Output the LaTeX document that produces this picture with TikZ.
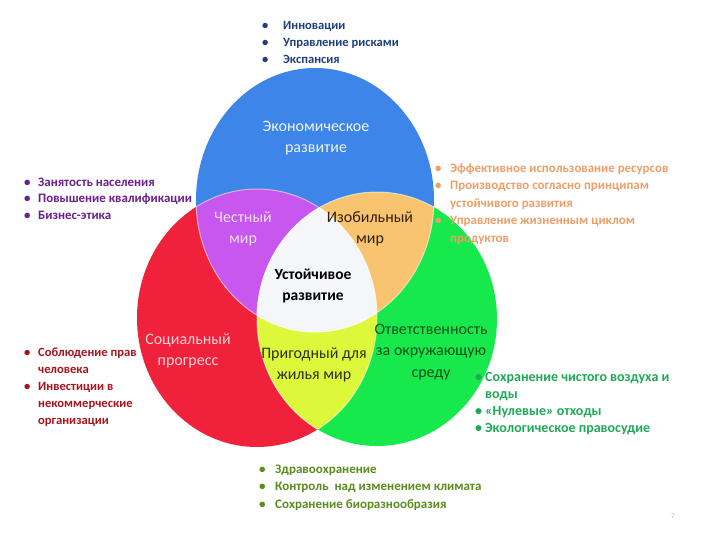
\documentclass[tikz,border=0pt]{standalone}
\usepackage{fontspec}
\setmainfont{Carlito}
\definecolor{cBlue}{HTML}{3D85E8}
\definecolor{cRed}{HTML}{F0213A}
\definecolor{cGreen}{HTML}{17E84C}
\definecolor{cPurple}{HTML}{C857F0}
\definecolor{cOrange}{HTML}{F8C470}
\definecolor{cYellow}{HTML}{DDF83A}
\definecolor{cWhite}{HTML}{F5F6FA}
\definecolor{tNavy}{HTML}{1F3F7F}
\definecolor{tPurple}{HTML}{6B1E8E}
\definecolor{tOrange}{HTML}{EE9E68}
\definecolor{tRed}{HTML}{A8141C}
\definecolor{tGreen}{HTML}{1EAA55}
\definecolor{tOlive}{HTML}{5A8C1E}
\tikzset{
  lst/.style={anchor=north west, inner sep=0pt, align=left},
  venn/.style={align=center, inner sep=0pt, font=\fontsize{16}{21.5}\selectfont},
  edge/.style={draw=white, draw opacity=0.55, line width=1pt}
}
\begin{document}
\begin{tikzpicture}[x=1pt,y=-1pt]
\useasboundingbox (0,0) rectangle (720,540);
\fill[white] (0,0) rectangle (720,540);
% circles
\fill[cBlue] (315,200) ellipse [x radius=119, y radius=132];
\fill[cRed] (257,318) ellipse [x radius=120, y radius=129];
\fill[cGreen] (377,319) ellipse [x radius=120, y radius=127];
\begin{scope}
 \clip (315,200) ellipse [x radius=119, y radius=132];
 \fill[cPurple] (257,318) ellipse [x radius=120, y radius=129];
 \fill[cOrange] (377,319) ellipse [x radius=120, y radius=127];
\end{scope}
\begin{scope}
 \clip (257,318) ellipse [x radius=120, y radius=129];
 \fill[cYellow] (377,319) ellipse [x radius=120, y radius=127];
\end{scope}
\begin{scope}
 \clip (315,200) ellipse [x radius=119, y radius=132];
 \clip (257,318) ellipse [x radius=120, y radius=129];
 \fill[cWhite] (377,319) ellipse [x radius=120, y radius=127];
\end{scope}
\begin{scope}
 \clip (315,200) ellipse [x radius=119, y radius=132];
 \draw[edge] (257,318) ellipse [x radius=120, y radius=129];
 \draw[edge] (377,319) ellipse [x radius=120, y radius=127];
\end{scope}
\begin{scope}
 \clip (257,318) ellipse [x radius=120, y radius=129];
 \draw[edge] (377,319) ellipse [x radius=120, y radius=127];
 \draw[edge] (315,200) ellipse [x radius=119, y radius=132];
\end{scope}
\begin{scope}
 \clip (377,319) ellipse [x radius=120, y radius=127];
 \draw[edge] (315,200) ellipse [x radius=119, y radius=132];
 \draw[edge] (257,318) ellipse [x radius=120, y radius=129];
\end{scope}
% bullet lists
\node[lst, text=tNavy, font=\bfseries\fontsize{12.6}{17}\selectfont] (l1) at (262,17)
 {\begin{tabular}{@{}p{21pt}@{}l@{}}\textbullet & Инновации\\ \textbullet & Управление рисками\\ \textbullet & Экспансия\end{tabular}};
\node[lst, text=tPurple, font=\bfseries\fontsize{12.9}{16.3}\selectfont] (l2) at (24,175)
 {\begin{tabular}{@{}p{14pt}@{}l@{}}\textbullet & Занятость населения\\ \textbullet & Повышение квалификации\\ \textbullet & Бизнес-этика\end{tabular}};
\node[lst, text=tOrange, font=\bfseries\fontsize{12.9}{17.5}\selectfont] (l3) at (435,160)
 {\begin{tabular}{@{}p{15pt}@{}l@{}}\textbullet & Эффективное использование ресурсов\\ \textbullet & Производство согласно принципам\\ & устойчивого развития\\ \textbullet & Управление жизненным циклом\\ & продуктов\end{tabular}};
\node[lst, text=tRed, font=\bfseries\fontsize{12.6}{17}\selectfont] (l4) at (24,344)
 {\begin{tabular}{@{}p{14pt}@{}l@{}}\textbullet & Соблюдение прав\\ & человека\\ \textbullet & Инвестиции в\\ & некоммерческие\\ & организации\end{tabular}};
\node[lst, text=tGreen, font=\bfseries\fontsize{14}{17}\selectfont] (l5) at (475,369)
 {\begin{tabular}{@{}p{10pt}@{}l@{}}\textbullet & Сохранение чистого воздуха и\\ & воды\\ \textbullet & «Нулевые» отходы\\ \textbullet & Экологическое правосудие\end{tabular}};
\node[lst, text=tOlive, font=\bfseries\fontsize{13}{17.5}\selectfont] (l6) at (259,461)
 {\begin{tabular}{@{}p{16pt}@{}l@{}}\textbullet & Здравоохранение\\ \textbullet & Контроль\ \ над изменением климата\\ \textbullet & Сохранение биоразнообразия\end{tabular}};
% labels
\node[venn, text=white!92!cBlue] (eco) at (316,138) {Экономическое\\развитие};
\node[venn, text=white!80!cPurple] (fair) at (243,229) {Честный\\мир};
\node[venn, text=black!75!brown] (rich) at (370,229) {Изобильный\\мир};
\node[venn, text=black, font=\bfseries\fontsize{15.5}{21}\selectfont] (sust) at (313,286) {Устойчивое\\развитие};
\node[venn, text=white!80!cRed] (soc) at (188,351) {Социальный\\прогресс};
\node[venn, text=black!80!cYellow] (live) at (314,365) {Пригодный для\\жилья мир};
\node[venn, text=black!65!cGreen] (env) at (431,352) {Ответственность\\за окружающую\\среду};
\node[text=gray!60, font=\fontsize{7}{8}\selectfont, inner sep=0pt] (pg) at (673,516) {7};
\end{tikzpicture}
\end{document}
